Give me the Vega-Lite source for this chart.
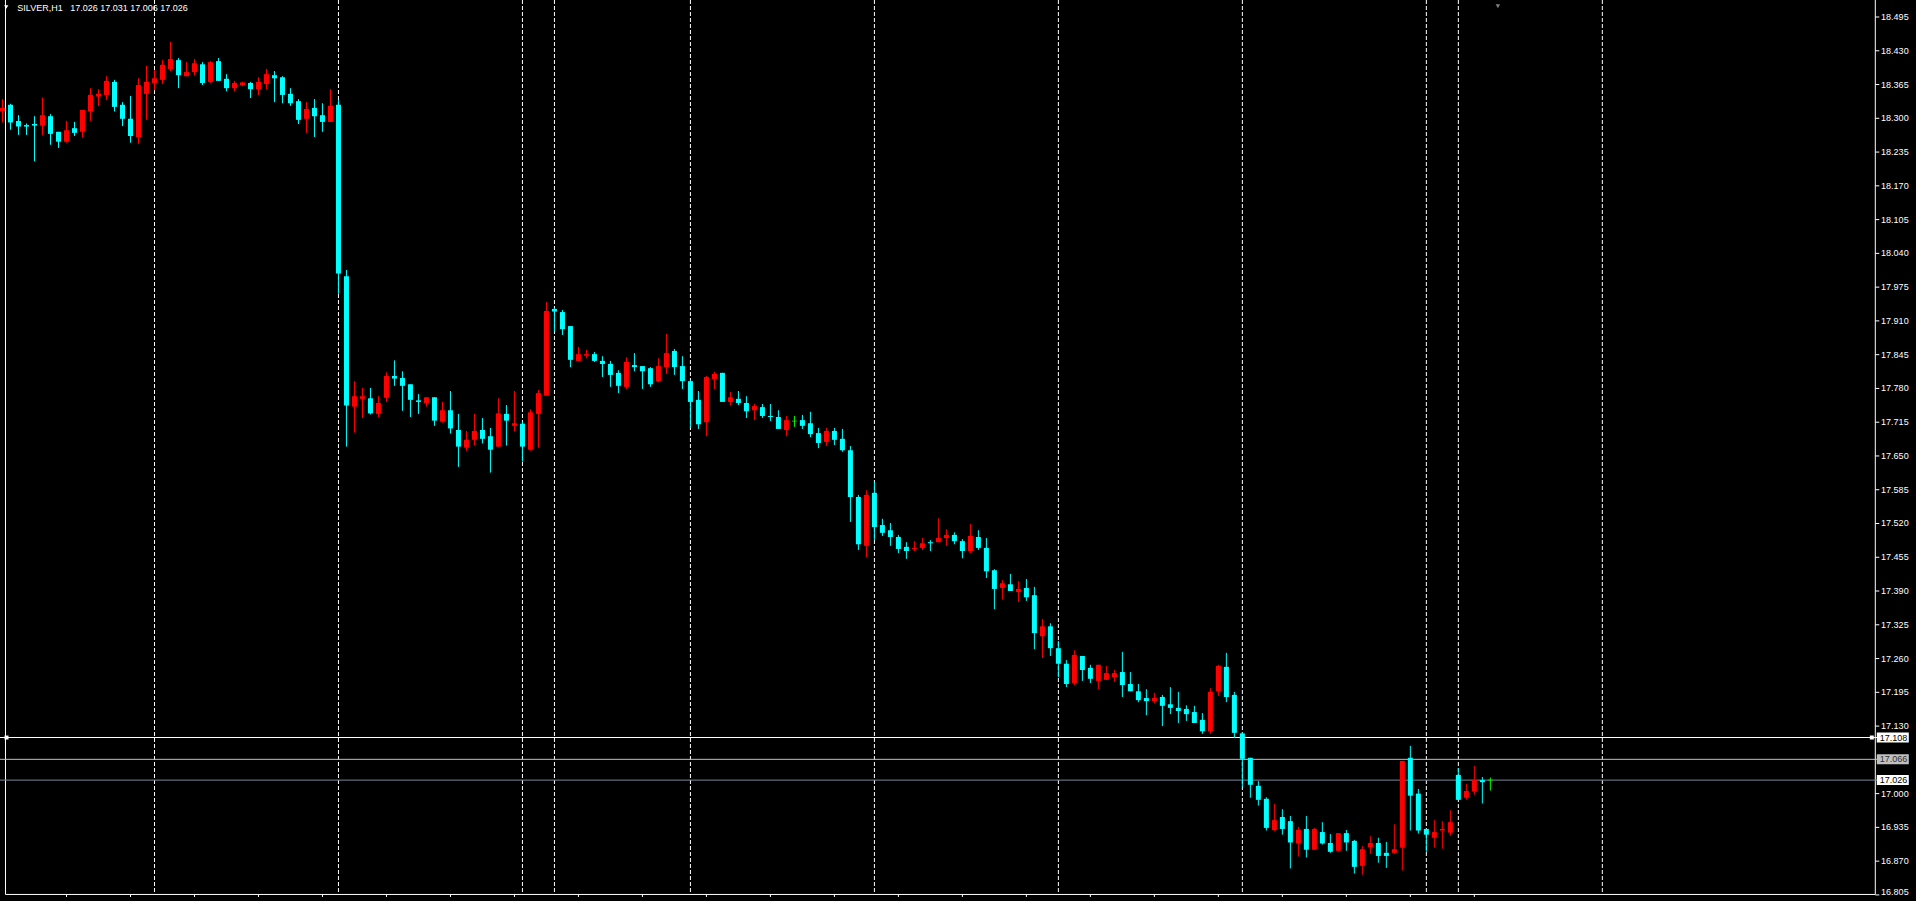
{
  "$schema": "https://vega.github.io/schema/vega-lite/v6.json",
  "width": 1880,
  "height": 898,
  "autosize": {"type": "none"},
  "padding": {"left": 0, "top": 0, "right": 36, "bottom": 3},
  "background": "#000000",
  "config": {"view": {"stroke": null}, "font": "Liberation Sans"},
  "datasets": {
    "candles": [
      {"i":0,"open":18.314,"high":18.337,"low":18.292,"close":18.320},
      {"i":1,"open":18.326,"high":18.328,"low":18.278,"close":18.292},
      {"i":2,"open":18.295,"high":18.306,"low":18.268,"close":18.284},
      {"i":3,"open":18.287,"high":18.290,"low":18.268,"close":18.284},
      {"i":4,"open":18.289,"high":18.304,"low":18.217,"close":18.286},
      {"i":5,"open":18.286,"high":18.340,"low":18.268,"close":18.306},
      {"i":6,"open":18.304,"high":18.308,"low":18.249,"close":18.270},
      {"i":7,"open":18.274,"high":18.274,"low":18.243,"close":18.255},
      {"i":8,"open":18.255,"high":18.295,"low":18.253,"close":18.277},
      {"i":9,"open":18.281,"high":18.293,"low":18.266,"close":18.272},
      {"i":10,"open":18.274,"high":18.316,"low":18.263,"close":18.316},
      {"i":11,"open":18.313,"high":18.358,"low":18.295,"close":18.345},
      {"i":12,"open":18.342,"high":18.356,"low":18.324,"close":18.347},
      {"i":13,"open":18.345,"high":18.381,"low":18.335,"close":18.372},
      {"i":14,"open":18.370,"high":18.374,"low":18.313,"close":18.322},
      {"i":15,"open":18.326,"high":18.331,"low":18.285,"close":18.299},
      {"i":16,"open":18.299,"high":18.343,"low":18.253,"close":18.266},
      {"i":17,"open":18.264,"high":18.377,"low":18.251,"close":18.364},
      {"i":18,"open":18.347,"high":18.401,"low":18.297,"close":18.370},
      {"i":19,"open":18.368,"high":18.393,"low":18.354,"close":18.377},
      {"i":20,"open":18.374,"high":18.412,"low":18.366,"close":18.403},
      {"i":21,"open":18.395,"high":18.447,"low":18.391,"close":18.414},
      {"i":22,"open":18.412,"high":18.416,"low":18.358,"close":18.383},
      {"i":23,"open":18.381,"high":18.408,"low":18.381,"close":18.389},
      {"i":24,"open":18.389,"high":18.414,"low":18.383,"close":18.406},
      {"i":25,"open":18.404,"high":18.408,"low":18.364,"close":18.368},
      {"i":26,"open":18.370,"high":18.410,"low":18.368,"close":18.408},
      {"i":27,"open":18.410,"high":18.416,"low":18.372,"close":18.372},
      {"i":28,"open":18.376,"high":18.385,"low":18.352,"close":18.358},
      {"i":29,"open":18.358,"high":18.372,"low":18.352,"close":18.368},
      {"i":30,"open":18.364,"high":18.370,"low":18.362,"close":18.369},
      {"i":31,"open":18.368,"high":18.370,"low":18.339,"close":18.356},
      {"i":32,"open":18.356,"high":18.379,"low":18.345,"close":18.370},
      {"i":33,"open":18.366,"high":18.395,"low":18.356,"close":18.385},
      {"i":34,"open":18.383,"high":18.391,"low":18.331,"close":18.377},
      {"i":35,"open":18.379,"high":18.381,"low":18.329,"close":18.345},
      {"i":36,"open":18.347,"high":18.358,"low":18.324,"close":18.329},
      {"i":37,"open":18.333,"high":18.337,"low":18.289,"close":18.297},
      {"i":38,"open":18.299,"high":18.331,"low":18.272,"close":18.318},
      {"i":39,"open":18.320,"high":18.337,"low":18.264,"close":18.304},
      {"i":40,"open":18.306,"high":18.329,"low":18.274,"close":18.293},
      {"i":41,"open":18.293,"high":18.356,"low":18.293,"close":18.324},
      {"i":42,"open":18.326,"high":18.335,"low":17.962,"close":18.001},
      {"i":43,"open":17.996,"high":18.008,"low":17.668,"close":17.747},
      {"i":44,"open":17.745,"high":17.794,"low":17.695,"close":17.765},
      {"i":45,"open":17.760,"high":17.781,"low":17.723,"close":17.765},
      {"i":46,"open":17.761,"high":17.781,"low":17.730,"close":17.732},
      {"i":47,"open":17.731,"high":17.765,"low":17.725,"close":17.752},
      {"i":48,"open":17.762,"high":17.811,"low":17.754,"close":17.804},
      {"i":49,"open":17.804,"high":17.834,"low":17.785,"close":17.799},
      {"i":50,"open":17.800,"high":17.813,"low":17.737,"close":17.785},
      {"i":51,"open":17.788,"high":17.788,"low":17.725,"close":17.758},
      {"i":52,"open":17.757,"high":17.769,"low":17.731,"close":17.754},
      {"i":53,"open":17.752,"high":17.763,"low":17.745,"close":17.763},
      {"i":54,"open":17.763,"high":17.763,"low":17.708,"close":17.718},
      {"i":55,"open":17.716,"high":17.754,"low":17.714,"close":17.738},
      {"i":56,"open":17.738,"high":17.775,"low":17.693,"close":17.703},
      {"i":57,"open":17.700,"high":17.731,"low":17.629,"close":17.668},
      {"i":58,"open":17.666,"high":17.698,"low":17.660,"close":17.681},
      {"i":59,"open":17.681,"high":17.731,"low":17.670,"close":17.698},
      {"i":60,"open":17.700,"high":17.723,"low":17.674,"close":17.683},
      {"i":61,"open":17.688,"high":17.704,"low":17.618,"close":17.662},
      {"i":62,"open":17.668,"high":17.761,"low":17.668,"close":17.732},
      {"i":63,"open":17.731,"high":17.748,"low":17.670,"close":17.718},
      {"i":64,"open":17.708,"high":17.775,"low":17.697,"close":17.713},
      {"i":65,"open":17.712,"high":17.716,"low":17.639,"close":17.668},
      {"i":66,"open":17.662,"high":17.740,"low":17.660,"close":17.734},
      {"i":67,"open":17.731,"high":17.777,"low":17.666,"close":17.771},
      {"i":68,"open":17.766,"high":17.946,"low":17.766,"close":17.929},
      {"i":69,"open":17.933,"high":17.935,"low":17.890,"close":17.928},
      {"i":70,"open":17.927,"high":17.931,"low":17.883,"close":17.894},
      {"i":71,"open":17.900,"high":17.900,"low":17.821,"close":17.835},
      {"i":72,"open":17.833,"high":17.860,"low":17.833,"close":17.846},
      {"i":73,"open":17.843,"high":17.854,"low":17.838,"close":17.846},
      {"i":74,"open":17.846,"high":17.850,"low":17.831,"close":17.833},
      {"i":75,"open":17.833,"high":17.842,"low":17.802,"close":17.827},
      {"i":76,"open":17.827,"high":17.833,"low":17.783,"close":17.806},
      {"i":77,"open":17.810,"high":17.815,"low":17.771,"close":17.785},
      {"i":78,"open":17.783,"high":17.840,"low":17.779,"close":17.831},
      {"i":79,"open":17.825,"high":17.848,"low":17.813,"close":17.821},
      {"i":80,"open":17.823,"high":17.823,"low":17.779,"close":17.813},
      {"i":81,"open":17.819,"high":17.821,"low":17.783,"close":17.788},
      {"i":82,"open":17.794,"high":17.838,"low":17.792,"close":17.823},
      {"i":83,"open":17.821,"high":17.885,"low":17.808,"close":17.848},
      {"i":84,"open":17.852,"high":17.856,"low":17.806,"close":17.821},
      {"i":85,"open":17.823,"high":17.842,"low":17.779,"close":17.794},
      {"i":86,"open":17.794,"high":17.796,"low":17.704,"close":17.754},
      {"i":87,"open":17.758,"high":17.775,"low":17.702,"close":17.711},
      {"i":88,"open":17.715,"high":17.804,"low":17.688,"close":17.802},
      {"i":89,"open":17.798,"high":17.812,"low":17.779,"close":17.808},
      {"i":90,"open":17.810,"high":17.810,"low":17.754,"close":17.754},
      {"i":91,"open":17.754,"high":17.773,"low":17.748,"close":17.763},
      {"i":92,"open":17.760,"high":17.775,"low":17.748,"close":17.752},
      {"i":93,"open":17.752,"high":17.765,"low":17.723,"close":17.736},
      {"i":94,"open":17.738,"high":17.750,"low":17.719,"close":17.746},
      {"i":95,"open":17.744,"high":17.750,"low":17.723,"close":17.727},
      {"i":96,"open":17.727,"high":17.750,"low":17.717,"close":17.725},
      {"i":97,"open":17.725,"high":17.738,"low":17.702,"close":17.702},
      {"i":98,"open":17.700,"high":17.727,"low":17.688,"close":17.719},
      {"i":99,"open":17.717,"high":17.727,"low":17.706,"close":17.717},
      {"i":100,"open":17.719,"high":17.729,"low":17.702,"close":17.708},
      {"i":101,"open":17.713,"high":17.735,"low":17.686,"close":17.692},
      {"i":102,"open":17.694,"high":17.704,"low":17.665,"close":17.675},
      {"i":103,"open":17.677,"high":17.704,"low":17.669,"close":17.698},
      {"i":104,"open":17.698,"high":17.704,"low":17.671,"close":17.681},
      {"i":105,"open":17.683,"high":17.702,"low":17.658,"close":17.661},
      {"i":106,"open":17.661,"high":17.669,"low":17.523,"close":17.571},
      {"i":107,"open":17.571,"high":17.575,"low":17.469,"close":17.480},
      {"i":108,"open":17.477,"high":17.584,"low":17.455,"close":17.575},
      {"i":109,"open":17.579,"high":17.600,"low":17.488,"close":17.513},
      {"i":110,"open":17.517,"high":17.529,"low":17.496,"close":17.502},
      {"i":111,"open":17.507,"high":17.521,"low":17.477,"close":17.494},
      {"i":112,"open":17.494,"high":17.498,"low":17.463,"close":17.471},
      {"i":113,"open":17.475,"high":17.484,"low":17.452,"close":17.467},
      {"i":114,"open":17.471,"high":17.486,"low":17.467,"close":17.473},
      {"i":115,"open":17.473,"high":17.492,"low":17.469,"close":17.482},
      {"i":116,"open":17.484,"high":17.488,"low":17.467,"close":17.482},
      {"i":117,"open":17.484,"high":17.530,"low":17.484,"close":17.492},
      {"i":118,"open":17.492,"high":17.509,"low":17.477,"close":17.498},
      {"i":119,"open":17.498,"high":17.503,"low":17.480,"close":17.486},
      {"i":120,"open":17.486,"high":17.490,"low":17.453,"close":17.467},
      {"i":121,"open":17.467,"high":17.519,"low":17.463,"close":17.496},
      {"i":122,"open":17.494,"high":17.507,"low":17.469,"close":17.473},
      {"i":123,"open":17.473,"high":17.492,"low":17.415,"close":17.428},
      {"i":124,"open":17.430,"high":17.432,"low":17.355,"close":17.394},
      {"i":125,"open":17.396,"high":17.411,"low":17.374,"close":17.405},
      {"i":126,"open":17.403,"high":17.423,"low":17.390,"close":17.390},
      {"i":127,"open":17.388,"high":17.409,"low":17.369,"close":17.394},
      {"i":128,"open":17.396,"high":17.413,"low":17.371,"close":17.378},
      {"i":129,"open":17.382,"high":17.398,"low":17.278,"close":17.309},
      {"i":130,"open":17.303,"high":17.336,"low":17.261,"close":17.322},
      {"i":131,"open":17.322,"high":17.328,"low":17.265,"close":17.280},
      {"i":132,"open":17.280,"high":17.294,"low":17.224,"close":17.250},
      {"i":133,"open":17.250,"high":17.257,"low":17.205,"close":17.211},
      {"i":134,"open":17.213,"high":17.276,"low":17.209,"close":17.267},
      {"i":135,"open":17.265,"high":17.265,"low":17.217,"close":17.238},
      {"i":136,"open":17.242,"high":17.248,"low":17.213,"close":17.221},
      {"i":137,"open":17.217,"high":17.248,"low":17.201,"close":17.248},
      {"i":138,"open":17.219,"high":17.246,"low":17.219,"close":17.232},
      {"i":139,"open":17.224,"high":17.238,"low":17.215,"close":17.232},
      {"i":140,"open":17.234,"high":17.273,"low":17.186,"close":17.209},
      {"i":141,"open":17.211,"high":17.234,"low":17.197,"close":17.197},
      {"i":142,"open":17.197,"high":17.211,"low":17.176,"close":17.180},
      {"i":143,"open":17.184,"high":17.201,"low":17.151,"close":17.178},
      {"i":144,"open":17.178,"high":17.194,"low":17.174,"close":17.184},
      {"i":145,"open":17.186,"high":17.190,"low":17.130,"close":17.169},
      {"i":146,"open":17.172,"high":17.205,"low":17.153,"close":17.165},
      {"i":147,"open":17.165,"high":17.196,"low":17.136,"close":17.159},
      {"i":148,"open":17.163,"high":17.170,"low":17.140,"close":17.153},
      {"i":149,"open":17.157,"high":17.169,"low":17.136,"close":17.136},
      {"i":150,"open":17.142,"high":17.155,"low":17.115,"close":17.120},
      {"i":151,"open":17.120,"high":17.203,"low":17.115,"close":17.196},
      {"i":152,"open":17.197,"high":17.248,"low":17.188,"close":17.246},
      {"i":153,"open":17.244,"high":17.271,"low":17.176,"close":17.186},
      {"i":154,"open":17.190,"high":17.196,"low":17.107,"close":17.117},
      {"i":155,"open":17.116,"high":17.118,"low":17.013,"close":17.067},
      {"i":156,"open":17.069,"high":17.069,"low":16.992,"close":17.017},
      {"i":157,"open":17.015,"high":17.024,"low":16.977,"close":16.988},
      {"i":158,"open":16.990,"high":16.993,"low":16.929,"close":16.934},
      {"i":159,"open":16.930,"high":16.980,"low":16.928,"close":16.949},
      {"i":160,"open":16.955,"high":16.970,"low":16.921,"close":16.932},
      {"i":161,"open":16.947,"high":16.957,"low":16.856,"close":16.906},
      {"i":162,"open":16.904,"high":16.936,"low":16.879,"close":16.930},
      {"i":163,"open":16.932,"high":16.957,"low":16.877,"close":16.892},
      {"i":164,"open":16.892,"high":16.934,"low":16.892,"close":16.932},
      {"i":165,"open":16.926,"high":16.945,"low":16.902,"close":16.904},
      {"i":166,"open":16.905,"high":16.922,"low":16.886,"close":16.888},
      {"i":167,"open":16.890,"high":16.924,"low":16.888,"close":16.924},
      {"i":168,"open":16.924,"high":16.930,"low":16.890,"close":16.906},
      {"i":169,"open":16.909,"high":16.911,"low":16.846,"close":16.859},
      {"i":170,"open":16.861,"high":16.899,"low":16.844,"close":16.893},
      {"i":171,"open":16.897,"high":16.918,"low":16.884,"close":16.905},
      {"i":172,"open":16.905,"high":16.915,"low":16.867,"close":16.880},
      {"i":173,"open":16.886,"high":16.907,"low":16.857,"close":16.880},
      {"i":174,"open":16.886,"high":16.941,"low":16.884,"close":16.893},
      {"i":175,"open":16.896,"high":17.063,"low":16.852,"close":17.063},
      {"i":176,"open":17.069,"high":17.092,"low":16.929,"close":16.996},
      {"i":177,"open":17.000,"high":17.009,"low":16.923,"close":16.929},
      {"i":178,"open":16.932,"high":16.932,"low":16.888,"close":16.921},
      {"i":179,"open":16.915,"high":16.949,"low":16.896,"close":16.926},
      {"i":180,"open":16.929,"high":16.947,"low":16.894,"close":16.932},
      {"i":181,"open":16.925,"high":16.968,"low":16.919,"close":16.945},
      {"i":182,"open":17.036,"high":17.049,"low":16.988,"close":16.988},
      {"i":183,"open":16.992,"high":17.019,"low":16.988,"close":17.005},
      {"i":184,"open":17.004,"high":17.053,"low":16.998,"close":17.026},
      {"i":185,"open":17.026,"high":17.032,"low":16.981,"close":17.022},
      {"i":186,"open":17.026,"high":17.031,"low":17.006,"close":17.026}
    ],
    "separators": [{"bar":19},{"bar":42},{"bar":65},{"bar":69},{"bar":86},{"bar":109},{"bar":132},{"bar":155},{"bar":178},{"bar":182},{"bar":200}],
    "xticks": [{"bar":8},{"bar":16},{"bar":24},{"bar":32},{"bar":40},{"bar":48},{"bar":56},{"bar":64},{"bar":72},{"bar":80},{"bar":88},{"bar":96},{"bar":104},{"bar":112},{"bar":120},{"bar":128},{"bar":136},{"bar":144},{"bar":152},{"bar":160},{"bar":168},{"bar":176},{"bar":184}],
    "yticks": [{"value":16.805},{"value":16.870},{"value":16.935},{"value":17.000},{"value":17.130},{"value":17.195},{"value":17.260},{"value":17.325},{"value":17.390},{"value":17.455},{"value":17.520},{"value":17.585},{"value":17.650},{"value":17.715},{"value":17.780},{"value":17.845},{"value":17.910},{"value":17.975},{"value":18.040},{"value":18.105},{"value":18.170},{"value":18.235},{"value":18.300},{"value":18.365},{"value":18.430},{"value":18.495}],
    "levels": [{"price":17.108},{"price":17.066},{"price":17.026}],
    "handles": [{"bar":0.5,"price":17.108},{"bar":233.69,"price":17.108}]
  },
  "layer": [
    {
      "data": {"name": "separators"},
      "mark": {"type": "rule", "color": "#ffffff", "strokeWidth": 1, "strokeDash": [4, 2]},
      "encoding": {
        "x": {"field": "bar", "type": "quantitative", "scale": {"domain": [0.3125, 234.0869], "nice": false, "zero": false}, "axis": null},
        "y": {"datum": 18.52772, "type": "quantitative", "scale": {"domain": [16.80869, 18.51810], "nice": false, "zero": false}, "axis": null},
        "y2": {"datum": 16.80589}
      }
    },
    {
      "data": {"values": [{}]},
      "mark": {"type": "rule", "color": "#ffffff", "strokeWidth": 1},
      "encoding": {
        "x": {"datum": 0.375, "type": "quantitative", "scale": {"domain": [0.3125, 234.0869], "nice": false, "zero": false}, "axis": null},
        "y": {"datum": 18.52772, "type": "quantitative", "scale": {"domain": [16.80869, 18.51810], "nice": false, "zero": false}, "axis": null},
        "y2": {"datum": 16.80589}
      }
    },
    {
      "data": {"values": [{}]},
      "mark": {"type": "rule", "color": "#ffffff", "strokeWidth": 1},
      "encoding": {
        "x": {"datum": 234.125, "type": "quantitative", "scale": {"domain": [0.3125, 234.0869], "nice": false, "zero": false}, "axis": null},
        "y": {"datum": 18.52772, "type": "quantitative", "scale": {"domain": [16.80869, 18.51810], "nice": false, "zero": false}, "axis": null},
        "y2": {"datum": 16.80589}
      }
    },
    {
      "data": {"values": [{}]},
      "mark": {"type": "rule", "color": "#ffffff", "strokeWidth": 1},
      "encoding": {
        "x": {"datum": 0.375, "type": "quantitative", "scale": {"domain": [0.3125, 234.0869], "nice": false, "zero": false}, "axis": null},
        "x2": {"datum": 234.125},
        "y": {"datum": 16.80589, "type": "quantitative", "scale": {"domain": [16.80869, 18.51810], "nice": false, "zero": false}, "axis": null}
      }
    },
    {
      "data": {"name": "xticks"},
      "mark": {"type": "rule", "color": "#ffffff", "strokeWidth": 1},
      "encoding": {
        "x": {"field": "bar", "type": "quantitative", "scale": {"domain": [0.3125, 234.0869], "nice": false, "zero": false}, "axis": null},
        "y": {"datum": 16.80589, "type": "quantitative", "scale": {"domain": [16.80869, 18.51810], "nice": false, "zero": false}, "axis": null},
        "y2": {"datum": 16.8010}
      }
    },
    {
      "data": {"name": "levels"},
      "mark": {"type": "rule", "strokeWidth": 1},
      "encoding": {
        "y": {"field": "price", "type": "quantitative", "scale": {"domain": [16.80869, 18.51810], "nice": false, "zero": false}, "axis": null},
        "color": {"condition": [{"test": "datum.price == 17.066", "value": "#c0c0c0"}, {"test": "datum.price == 17.026", "value": "#778899"}], "value": "#ffffff"}
      }
    },
    {
      "data": {"name": "candles"},
      "mark": {"type": "rule", "strokeWidth": 1, "clip": true},
      "encoding": {
        "x": {"field": "i", "type": "quantitative", "scale": {"domain": [0.3125, 234.0869], "nice": false, "zero": false}, "axis": null},
        "y": {"field": "low", "type": "quantitative", "scale": {"domain": [16.80869, 18.51810], "nice": false, "zero": false}, "axis": null},
        "y2": {"field": "high"},
        "color": {"condition": [{"test": "datum.close > datum.open", "value": "#ff0000"}, {"test": "datum.close < datum.open", "value": "#00ffff"}], "value": "#00ff00"}
      }
    },
    {
      "data": {"name": "candles"},
      "mark": {"type": "bar", "clip": true},
      "encoding": {
        "x": {"field": "i", "type": "quantitative", "scale": {"domain": [0.3125, 234.0869], "nice": false, "zero": false}, "axis": null},
        "y": {"field": "open", "type": "quantitative", "scale": {"domain": [16.80869, 18.51810], "nice": false, "zero": false}, "axis": null},
        "y2": {"field": "close"},
        "size": {"value": 5},
        "color": {"condition": [{"test": "datum.close > datum.open", "value": "#ff0000"}, {"test": "datum.close < datum.open", "value": "#00ffff"}], "value": "#00ff00"}
      }
    },
    {
      "data": {"name": "candles"},
      "transform": [{"filter": "datum.open == datum.close"}],
      "mark": {"type": "tick", "orient": "horizontal", "thickness": 1, "size": 5, "color": "#00ff00", "clip": true},
      "encoding": {
        "x": {"field": "i", "type": "quantitative", "scale": {"domain": [0.3125, 234.0869], "nice": false, "zero": false}, "axis": null},
        "y": {"field": "open", "type": "quantitative", "scale": {"domain": [16.80869, 18.51810], "nice": false, "zero": false}, "axis": null}
      }
    },
    {
      "data": {"name": "yticks"},
      "mark": {"type": "rule", "color": "#ffffff", "strokeWidth": 1},
      "encoding": {
        "x": {"datum": 234.125, "type": "quantitative", "scale": {"domain": [0.3125, 234.0869], "nice": false, "zero": false}, "axis": null},
        "x2": {"datum": 234.625},
        "y": {"field": "value", "type": "quantitative", "scale": {"domain": [16.80869, 18.51810], "nice": false, "zero": false}, "axis": null}
      }
    },
    {
      "data": {"name": "yticks"},
      "transform": [{"filter": "datum.value > 16.81"}],
      "mark": {"type": "text", "align": "left", "baseline": "middle", "fontSize": 9, "font": "Liberation Sans", "color": "#ffffff"},
      "encoding": {
        "x": {"datum": 234.85, "type": "quantitative", "scale": {"domain": [0.3125, 234.0869], "nice": false, "zero": false}, "axis": null},
        "y": {"field": "value", "type": "quantitative", "scale": {"domain": [16.80869, 18.51810], "nice": false, "zero": false}, "axis": null},
        "text": {"field": "value", "type": "quantitative", "format": ".3f"}
      }
    },
    {
      "data": {"name": "yticks"},
      "transform": [{"filter": "datum.value < 16.81"}],
      "mark": {"type": "text", "align": "left", "baseline": "alphabetic", "fontSize": 9, "font": "Liberation Sans", "color": "#ffffff"},
      "encoding": {
        "x": {"datum": 234.85, "type": "quantitative", "scale": {"domain": [0.3125, 234.0869], "nice": false, "zero": false}, "axis": null},
        "y": {"field": "value", "type": "quantitative", "scale": {"domain": [16.80869, 18.51810], "nice": false, "zero": false}, "axis": null},
        "text": {"field": "value", "type": "quantitative", "format": ".3f"}
      }
    },
    {
      "data": {"name": "levels"},
      "mark": {"type": "bar", "orient": "horizontal"},
      "encoding": {
        "x": {"datum": 234.3125, "type": "quantitative", "scale": {"domain": [0.3125, 234.0869], "nice": false, "zero": false}, "axis": null},
        "x2": {"datum": 238.3125},
        "y": {"field": "price", "type": "quantitative", "scale": {"domain": [16.80869, 18.51810], "nice": false, "zero": false}, "axis": null},
        "size": {"value": 10},
        "color": {"condition": {"test": "datum.price == 17.066", "value": "#c0c0c0"}, "value": "#ffffff"}
      }
    },
    {
      "data": {"name": "levels"},
      "mark": {"type": "text", "align": "left", "baseline": "middle", "fontSize": 9, "font": "Liberation Sans"},
      "encoding": {
        "x": {"datum": 234.6875, "type": "quantitative", "scale": {"domain": [0.3125, 234.0869], "nice": false, "zero": false}, "axis": null},
        "y": {"field": "price", "type": "quantitative", "scale": {"domain": [16.80869, 18.51810], "nice": false, "zero": false}, "axis": null},
        "text": {"field": "price", "type": "quantitative", "format": ".3f"},
        "color": {"condition": {"test": "datum.price == 17.066", "value": "#303030"}, "value": "#000000"}
      }
    },
    {
      "data": {"name": "handles"},
      "mark": {"type": "point", "shape": "square", "filled": true, "size": 16, "color": "#ffffff", "opacity": 1},
      "encoding": {
        "x": {"field": "bar", "type": "quantitative", "scale": {"domain": [0.3125, 234.0869], "nice": false, "zero": false}, "axis": null},
        "y": {"field": "price", "type": "quantitative", "scale": {"domain": [16.80869, 18.51810], "nice": false, "zero": false}, "axis": null}
      }
    },
    {
      "data": {"values": [{}]},
      "mark": {"type": "point", "shape": "triangle-down", "filled": true, "size": 18, "color": "#ffffff", "opacity": 1},
      "encoding": {
        "x": {"datum": 0.47, "type": "quantitative", "scale": {"domain": [0.3125, 234.0869], "nice": false, "zero": false}, "axis": null},
        "y": {"datum": 18.51425, "type": "quantitative", "scale": {"domain": [16.80869, 18.51810], "nice": false, "zero": false}, "axis": null}
      }
    },
    {
      "data": {"values": [{}]},
      "mark": {"type": "point", "shape": "triangle-down", "filled": true, "size": 20, "color": "#808080", "opacity": 1},
      "encoding": {
        "x": {"datum": 186.94, "type": "quantitative", "scale": {"domain": [0.3125, 234.0869], "nice": false, "zero": false}, "axis": null},
        "y": {"datum": 18.5158, "type": "quantitative", "scale": {"domain": [16.80869, 18.51810], "nice": false, "zero": false}, "axis": null}
      }
    },
    {
      "data": {"values": [{}]},
      "mark": {"type": "text", "text": "SILVER,H1\u00a0\u00a0\u00a017.026 17.031 17.006 17.026", "align": "left", "baseline": "alphabetic", "fontSize": 9, "font": "Liberation Sans", "color": "#ffffff"},
      "encoding": {
        "x": {"datum": 1.85, "type": "quantitative", "scale": {"domain": [0.3125, 234.0869], "nice": false, "zero": false}, "axis": null},
        "y": {"datum": 18.50597, "type": "quantitative", "scale": {"domain": [16.80869, 18.51810], "nice": false, "zero": false}, "axis": null}
      }
    }
  ]
}
